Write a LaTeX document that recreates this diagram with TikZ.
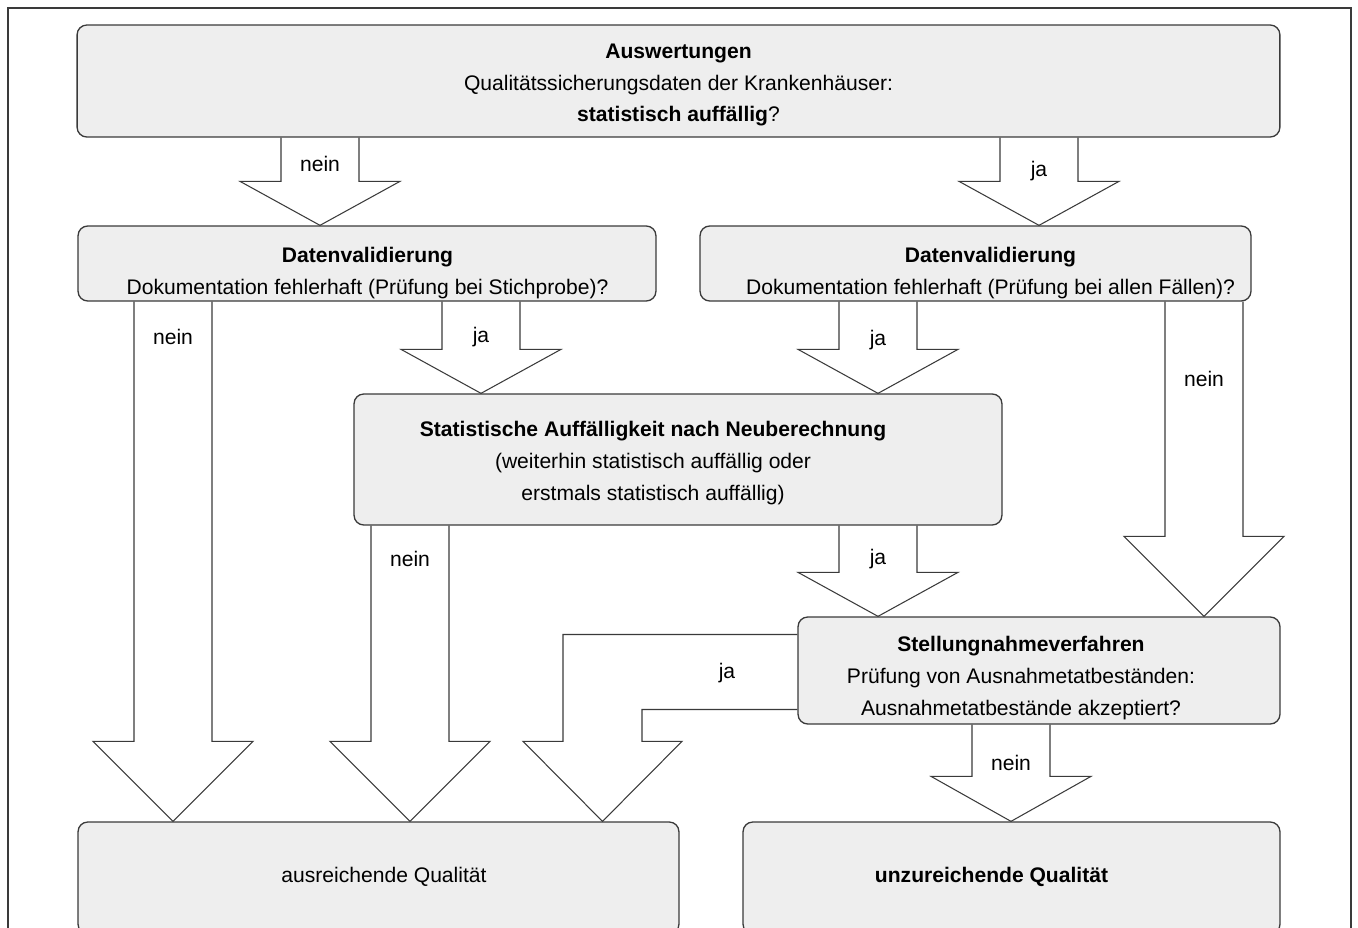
\documentclass[tikz,border=0pt]{standalone}
\usepackage{fontspec}
\setmainfont{Liberation Sans}
\usetikzlibrary{calc}

\definecolor{boxgray}{HTML}{EEEEEE}
\definecolor{linegray}{HTML}{3A3A3A}

\tikzset{
  box/.style={draw=linegray, line width=0.75pt, fill=boxgray, rounded corners=5.5pt, inner sep=0pt},
  txt/.style={align=center, inner sep=0pt, font=\fontsize{12}{18}\selectfont},
  blockarr/.style={draw=linegray, line width=0.6pt},
  lbl/.style={font=\fontsize{12}{14}\selectfont},
}

% big hollow arrow: centre x, from, to, head length, label, label offset, label name
\newcommand{\blockarr}[7]{%
  \draw[blockarr] ($(#1-39,0 |- #2.south)$) -- ($(#1-39,0 |- #3.north)+(0,-#4)$)
    -- ($(#1-80,0 |- #3.north)+(0,-#4)$) -- (#1,0 |- #3.north)
    -- ($(#1+80,0 |- #3.north)+(0,-#4)$) -- ($(#1+39,0 |- #3.north)+(0,-#4)$)
    -- ($(#1+39,0 |- #2.south)$);
  \node[lbl] (#7) at ($(#1,0 |- #2.south)+(0,#6)$) {#5};
}

\begin{document}
\begin{tikzpicture}[x=0.02cm, y=-0.02cm]
  \useasboundingbox (0,0) rectangle (1358,927);
  \clip (0,0) rectangle (1358,927);
  \draw[linegray, line width=0.75pt] (8,940) -- (8,8) -- (1351,8) -- (1351,940);

  % boxes
  \node[box, minimum width=24.06cm, minimum height=2.24cm] (ausw) at (678.5,81) {};
  \node[box, minimum width=11.56cm, minimum height=1.5cm] (dvl) at (367,263.5) {};
  \node[box, minimum width=11.02cm, minimum height=1.5cm] (dvr) at (975.5,263.5) {};
  \node[box, minimum width=12.96cm, minimum height=2.62cm] (neu) at (678,459.5) {};
  \node[box, minimum width=9.64cm, minimum height=2.14cm] (stn) at (1039,670.5) {};
  \node[box, minimum width=12.02cm, minimum height=2.24cm] (ok) at (378.5,878) {};
  \node[box, minimum width=10.74cm, minimum height=2.24cm] (bad) at (1011.5,878) {};

  % box texts
  \node[txt] (ausw-t) at ($(ausw)+(0,4)$)
    {\textbf{Auswertungen}\\Qualitätssicherungsdaten der Krankenhäuser:\\\textbf{statistisch auffällig}?};
  \node[txt] (dvl-t) at ($(dvl)+(0.5,9.5)$)
    {\textbf{Datenvalidierung}\\Dokumentation fehlerhaft (Prüfung bei Stichprobe)?};
  \node[txt] (dvr-t) at ($(dvr)+(15,9.5)$)
    {\textbf{Datenvalidierung}\\Dokumentation fehlerhaft (Prüfung bei allen Fällen)?};
  \node[txt] (neu-t) at ($(neu)+(-25,3.5)$)
    {\textbf{Statistische Auffälligkeit nach Neuberechnung}\\(weiterhin statistisch auffällig oder\\erstmals statistisch auffällig)};
  \node[txt] (stn-t) at ($(stn)+(-18,7.5)$)
    {\textbf{Stellungnahmeverfahren}\\Prüfung von Ausnahmetatbeständen:\\Ausnahmetatbestände akzeptiert?};
  \node[txt] (ok-t) at ($(ok)+(5.5,-1)$) {ausreichende Qualität};
  \node[txt] (bad-t) at ($(bad)+(-20,-1)$) {\textbf{unzureichende Qualität}};

  % arrows
  \blockarr{320}{ausw}{dvl}{44}{nein}{26}{l1}
  \blockarr{1039}{ausw}{dvr}{44}{ja}{33}{l2}
  \blockarr{173}{dvl}{ok}{80}{nein}{35}{l3}
  \blockarr{481}{dvl}{neu}{44}{ja}{35}{l4}
  \blockarr{878}{dvr}{neu}{44}{ja}{38}{l5}
  \blockarr{1204}{dvr}{stn}{80}{nein}{77}{l6}
  \blockarr{410}{neu}{ok}{80}{nein}{33}{l7}
  \blockarr{878}{neu}{stn}{44}{ja}{33}{l8}
  \blockarr{1011}{stn}{bad}{45}{nein}{38}{l9}

  % bent arrow to the left
  \draw[blockarr] ($(stn.west)+(0,-36)$) -- ($(563,0 |- stn.west)+(0,-36)$)
    -- ($(563,0 |- ok.north)+(0,-80)$) -- ($(523,0 |- ok.north)+(0,-80)$)
    -- (602.5,0 |- ok.north) -- ($(682,0 |- ok.north)+(0,-80)$)
    -- ($(642,0 |- ok.north)+(0,-80)$) -- ($(642,0 |- stn.west)+(0,39)$)
    -- ($(stn.west)+(0,39)$);
  \node[lbl] (l10) at (727,673) {ja};
\end{tikzpicture}
\end{document}
